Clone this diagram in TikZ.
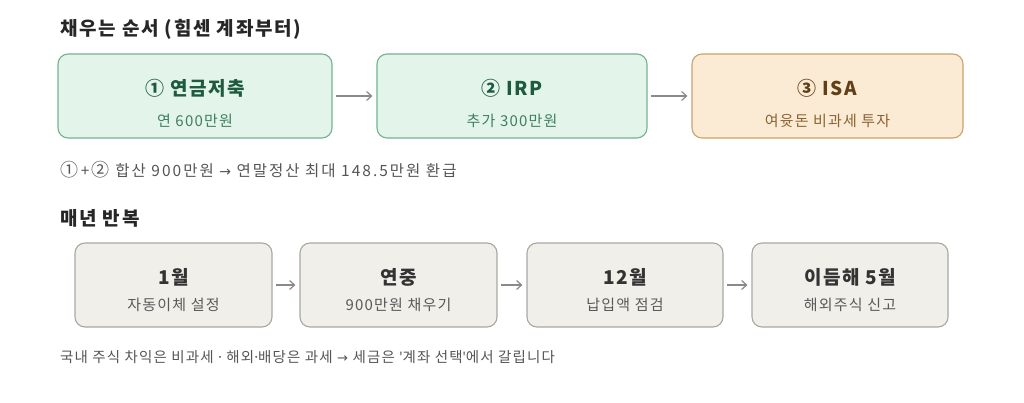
\documentclass[tikz,border=0pt]{standalone}
\usepackage{fontspec}
\setmainfont{Noto Sans CJK KR}
\newfontfamily\lsH[LetterSpace=9]{Noto Sans CJK KR}
\newfontfamily\lsT[LetterSpace=8]{Noto Sans CJK KR}
\newfontfamily\lsS[LetterSpace=8]{Noto Sans CJK KR}
\newfontfamily\lsN[LetterSpace=13]{Noto Sans CJK KR}
\newfontfamily\lsB[LetterSpace=8]{Noto Sans CJK KR}
\newfontfamily\latn{Noto Sans}
\newfontfamily\arw{DejaVu Sans}
\usetikzlibrary{arrows.meta}
\definecolor{gfill}{HTML}{E3F4EB}
\definecolor{gdraw}{HTML}{72B293}
\definecolor{gtext}{HTML}{1E5A3D}
\definecolor{gsub}{HTML}{3F7F5E}
\definecolor{ofill}{HTML}{FBEBD5}
\definecolor{odraw}{HTML}{C9A26C}
\definecolor{otext}{HTML}{5E3F16}
\definecolor{osub}{HTML}{8A6330}
\definecolor{kfill}{HTML}{F1EFEA}
\definecolor{kdraw}{HTML}{A9A7A1}
\definecolor{ktext}{HTML}{333333}
\definecolor{ksub}{HTML}{595959}
\definecolor{arr}{HTML}{8A8A8A}
\definecolor{note}{HTML}{555555}
\newcommand\circnum[1]{{\fontsize{18}{18}\selectfont #1}}
\tikzset{
  card/.style={rounded corners=10pt, line width=1.1pt, minimum height=84pt, inner sep=0pt, align=center},
  gcard/.style={card, fill=gfill, draw=gdraw},
  ocard/.style={card, fill=ofill, draw=odraw},
  kcard/.style={card, fill=kfill, draw=kdraw},
  flow/.style={draw=arr, line width=1.2pt, -{Straight Barb[length=5pt,width=9pt]}},
  head/.style={anchor=west, inner sep=0pt, font=\lsH\fontsize{19}{21}\selectfont\bfseries, text=black!85},
  notetext/.style={anchor=west, inner sep=0pt, text=note},
  ttl/.style={font=\lsT\fontsize{19}{21}\selectfont\bfseries},
  sub/.style={font=\lsS\fontsize{15}{17}\selectfont},
}
\begin{document}
\begin{tikzpicture}[x=1pt,y=-1pt]
\useasboundingbox (0,0) rectangle (1024,403);
\node[head] (t1) at (60,29) {채우는 순서 (힘센 계좌부터)};
\node[gcard, minimum width=274pt] (a) at (195,96) {};
\node[gcard, minimum width=270pt] (b) at (512,96) {};
\node[ocard, minimum width=271pt] (c) at (827.5,96) {};
\node[ttl, text=gtext] (a1) at ([yshift=8pt]a.center) {① 연금저축};
\node[sub, text=gsub] (a2) at ([yshift=-25pt]a.center) {연 600만원};
\node[ttl, text=gtext] (b1) at ([yshift=8pt]b.center) {② IRP};
\node[sub, text=gsub] (b2) at ([yshift=-25pt]b.center) {추가 300만원};
\node[ttl, text=otext] (c1) at ([yshift=8pt]c.center) {③ ISA};
\node[sub, text=osub] (c2) at ([yshift=-25pt]c.center) {여윳돈 비과세 투자};
\draw[flow] ([xshift=3pt]a.east) -- ([xshift=-4pt]b.west);
\draw[flow] ([xshift=3pt]b.east) -- ([xshift=-4pt]c.west);
\node[notetext, font=\lsN\fontsize{15.5}{17}\selectfont] (n1) at (60,170) {\circnum{①}\,+\,\circnum{②} 합산 900만원 {\arw\fontsize{14}{14}\selectfont →} 연말정산 최대 148.5만원 환급};
\node[head] (t2) at (60,218) {매년 반복};
\node[kcard, minimum width=197pt] (d) at (173.5,285) {};
\node[kcard, minimum width=197pt] (e) at (398.5,285) {};
\node[kcard, minimum width=196pt] (f) at (625,285) {};
\node[kcard, minimum width=196pt] (g) at (850,285) {};
\foreach \n/\t/\s in {d/1월/자동이체 설정, e/연중/900만원 채우기, f/12월/납입액 점검, g/이듬해 5월/해외주식 신고}{
  \node[ttl, text=ktext] (\n1) at ([yshift=8pt]\n.center) {\t};
  \node[sub, text=ksub] (\n2) at ([yshift=-20pt]\n.center) {\s};
}
\draw[flow] ([xshift=3pt]d.east) -- ([xshift=-4pt]e.west);
\draw[flow] ([xshift=3pt]e.east) -- ([xshift=-4pt]f.west);
\draw[flow] ([xshift=3pt]f.east) -- ([xshift=-4pt]g.west);
\node[notetext, font=\lsB\fontsize{14.5}{16}\selectfont] (n2) at (60,357) {국내 주식 차익은 비과세 {\latn·} 해외{\latn·}배당은 과세 {\arw\fontsize{13}{14}\selectfont →} 세금은 {\latn'}계좌 선택{\latn'}에서 갈립니다};
\end{tikzpicture}
\end{document}
